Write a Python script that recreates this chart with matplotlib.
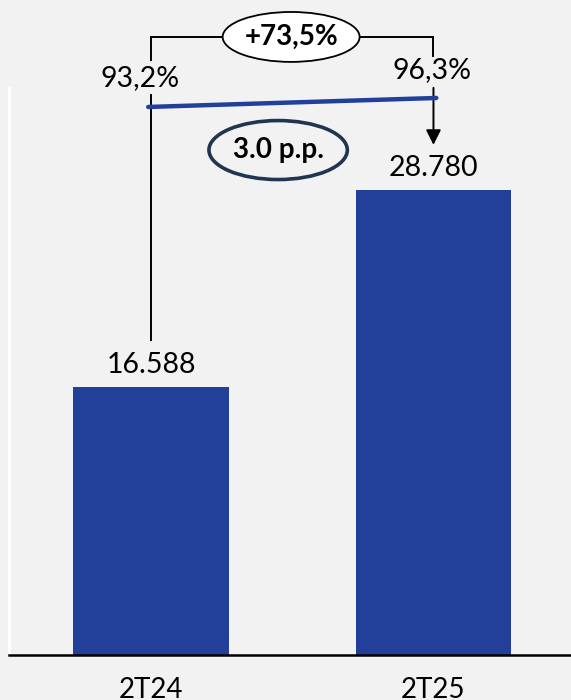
import matplotlib
matplotlib.use("Agg")
import matplotlib.pyplot as plt
from matplotlib.patches import Ellipse

# data
periods = ["2T24", "2T25"]
values = [16588, 28780]
value_labels = ["16.588", "28.780"]
shares = [93.2, 96.3]
share_labels = ["93,2%", "96,3%"]
growth_label = "+73,5%"
pp_label = "3.0 p.p."

BG = "#f2f2f2"
BLUE = "#22409a"
NAVY = "#1f3550"
plt.rcParams["font.family"] = ["Lato", "DejaVu Sans"]

fig = plt.figure(figsize=(5.71, 7), dpi=100, facecolor=BG)
ax = fig.add_axes([9 / 571, 45 / 700, 562 / 571, 567 / 700], facecolor=BG)

x = [0, 1]
ax.bar(x, values, width=0.552, color=BLUE, zorder=2)
ax.set_xlim(-0.503, 1.487)
ax.set_ylim(0, 35090)

# spines / ticks
for s in ["top", "right"]:
    ax.spines[s].set_visible(False)
ax.spines["left"].set_color("white")
ax.spines["left"].set_linewidth(2)
ax.spines["bottom"].set_color("black")
ax.spines["bottom"].set_linewidth(1.8)
ax.set_yticks([])
ax.set_xticks(x)
ax.set_xticklabels(periods, fontsize=20)
ax.tick_params(axis="x", length=0, pad=16)

# value labels over bars
for xi, v, lab in zip(x, values, value_labels):
    ax.text(xi, v + 1360, lab, ha="center", va="center", fontsize=20.5)

# bracket with growth
yb = 38250
k = dict(color="black", lw=1.4, clip_on=False, zorder=3)
ax.plot([0, 0.25], [yb, yb], **k)
ax.plot([0.745, 1], [yb, yb], **k)
ax.plot([0, 0], [yb, 36820], **k)
ax.plot([0, 0], [34650, 19500], **k)
ax.plot([1, 1], [yb, 37100], **k)
ax.annotate("", xy=(1, 31570), xytext=(1, 35100),
            arrowprops=dict(arrowstyle="-|>,head_length=0.9,head_width=0.45",
                            color="black", lw=1.4, shrinkA=0, shrinkB=0),
            annotation_clip=False, zorder=3)
e1 = Ellipse((0.496, yb), 0.485, 3090, facecolor="white", edgecolor="black",
             lw=1.3, clip_on=False, zorder=4)
ax.add_patch(e1)
ax.text(0.496, yb, growth_label, ha="center", va="center", fontsize=20,
        fontweight="bold", zorder=5)

# share line on secondary scale
ax2 = ax.twinx()
ax2.set_ylim(-95.8, 99.74)
ax2.set_axis_off()
ax2.plot([-0.01, 1.01], shares, color=BLUE, lw=3.2, solid_capstyle="round",
         clip_on=False)
ax.text(-0.04, 35710, share_labels[0], ha="center", va="center", fontsize=20.5)
ax.text(0.995, 36200, share_labels[1], ha="center", va="center", fontsize=20.5)

e2 = Ellipse((0.45, 31250), 0.49, 3650, facecolor="none", edgecolor=NAVY,
             lw=2.6, clip_on=False, zorder=4)
ax.add_patch(e2)
ax.text(0.45, 31250, pp_label, ha="center", va="center", fontsize=20,
        fontweight="bold", zorder=5)

fig.savefig("out.png", dpi=100, facecolor=BG)
